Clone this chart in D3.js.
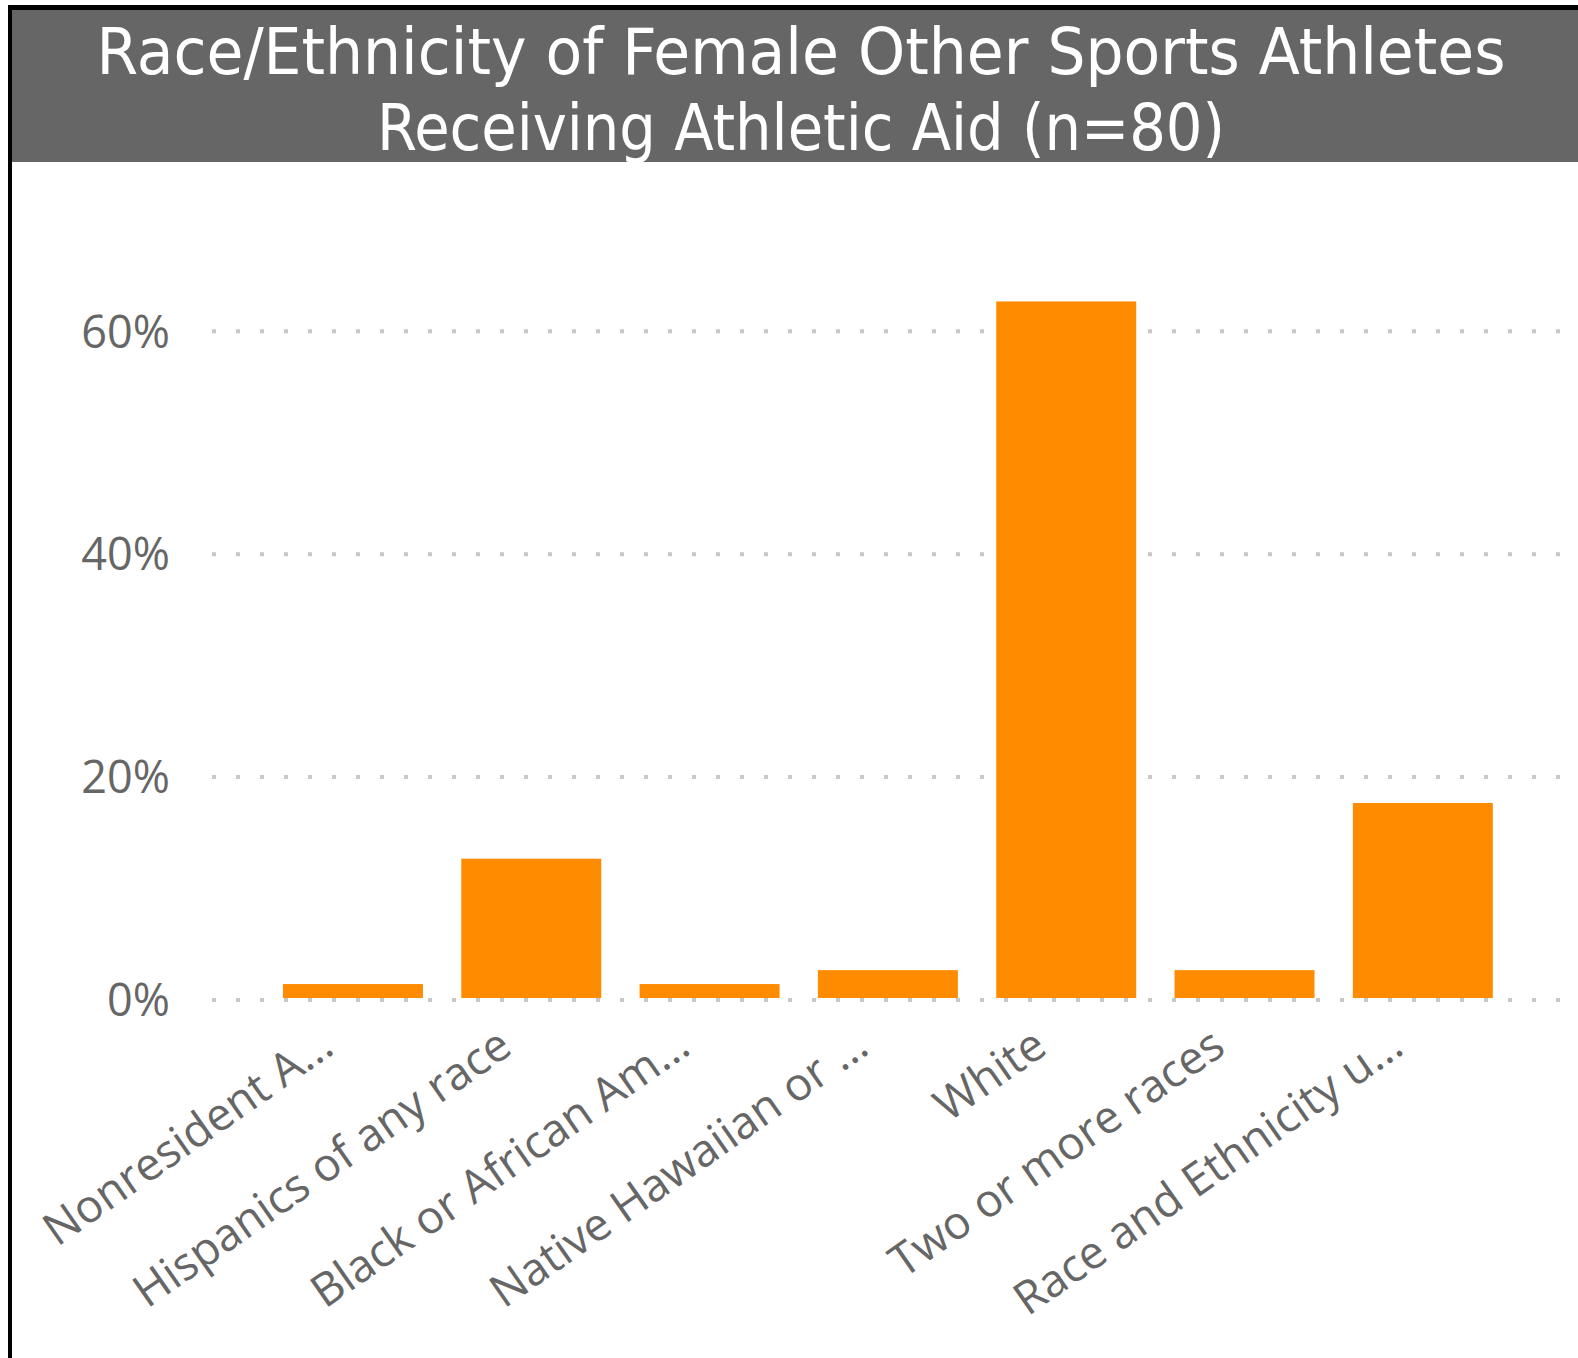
<!DOCTYPE html>
<html>
<head>
<meta charset="utf-8">
<script src="https://cdn.jsdelivr.net/npm/d3@7"></script>
<style>
  html, body { margin: 0; padding: 0; background: #fff; }
  svg { display: block; }
</style>
</head>
<body>
<svg id="chart" width="1578" height="1358"></svg>
<script>
const titleLines = ["Race/Ethnicity of Female Other Sports Athletes", "Receiving Athletic Aid (n=80)"];
const categories = ["Nonresident A…", "Hispanics of any race", "Black or African Am…", "Native Hawaiian or …", "White", "Two or more races", "Race and Ethnicity u…"];
const values = [0.0125, 0.125, 0.0125, 0.025, 0.625, 0.025, 0.175];
const yTicks = [0, 0.2, 0.4, 0.6];
const yTickLabels = ["0%", "20%", "40%", "60%"];

const svg = d3.select("#chart");
const W = 1578, H = 1358;

// borders
svg.append("rect").attr("x", 8).attr("y", 5).attr("width", W - 8).attr("height", 5).attr("fill", "#000");
svg.append("rect").attr("x", 8).attr("y", 5).attr("width", 4).attr("height", H - 5).attr("fill", "#000");

// title bar
svg.append("rect").attr("x", 12).attr("y", 10).attr("width", W - 12).attr("height", 152).attr("fill", "#666666");
const titleFont = "DIN, 'Liberation Sans Narrow', 'DejaVu Sans Condensed', sans-serif";
const titleLens = [1409, 848];
const titleY = [74, 150];
titleLines.forEach((t, i) => {
  svg.append("text")
    .attr("x", 801).attr("y", titleY[i])
    .attr("text-anchor", "middle")
    .attr("font-family", titleFont)
    .attr("font-size", 64)
    .attr("fill", "#ffffff")
    .attr("textLength", titleLens[i])
    .attr("lengthAdjust", "spacingAndGlyphs")
    .text(t);
});

// scales
const y = d3.scaleLinear().domain([0, 0.6]).range([998, 329.3]);
const x = d3.scaleBand().domain(categories).range([263.8, 1512]).paddingInner(0.215).paddingOuter(0.1075);

// gridlines
svg.append("g").selectAll("line").data(yTicks).join("line")
  .attr("x1", 212).attr("x2", W)
  .attr("y1", d => y(d) + 2).attr("y2", d => y(d) + 2)
  .attr("stroke", "#c8c8c8").attr("stroke-width", 4)
  .attr("stroke-dasharray", "4 20");

// y tick labels
const labelFont = "'Segoe UI', 'Open Sans', sans-serif";
svg.append("g").selectAll("text").data(yTicks).join("text")
  .attr("x", 170).attr("y", d => y(d) + 2).attr("dy", "0.36em")
  .attr("text-anchor", "end")
  .attr("font-family", labelFont).attr("font-size", 45)
  .attr("fill", "#666666")
  .text((d, i) => yTickLabels[i]);

// bars
svg.append("g").selectAll("rect").data(values).join("rect")
  .attr("x", (d, i) => x(categories[i]))
  .attr("width", x.bandwidth())
  .attr("y", d => y(d))
  .attr("height", d => y(0) - y(d))
  .attr("fill", "#FF8C00");

// x axis labels
const xAxis = svg.append("g").attr("transform", `translate(0,${y(0)})`)
  .call(d3.axisBottom(x).tickSize(0).tickPadding(0));
xAxis.select(".domain").remove();
xAxis.selectAll("text")
  .attr("x", 0).attr("y", 0).attr("dy", 0)
  .attr("text-anchor", "end")
  .attr("transform", "translate(-17,54) rotate(-35)")
  .attr("font-family", labelFont).attr("font-size", 45.5)
  .attr("fill", "#666666");
</script>
</body>
</html>
